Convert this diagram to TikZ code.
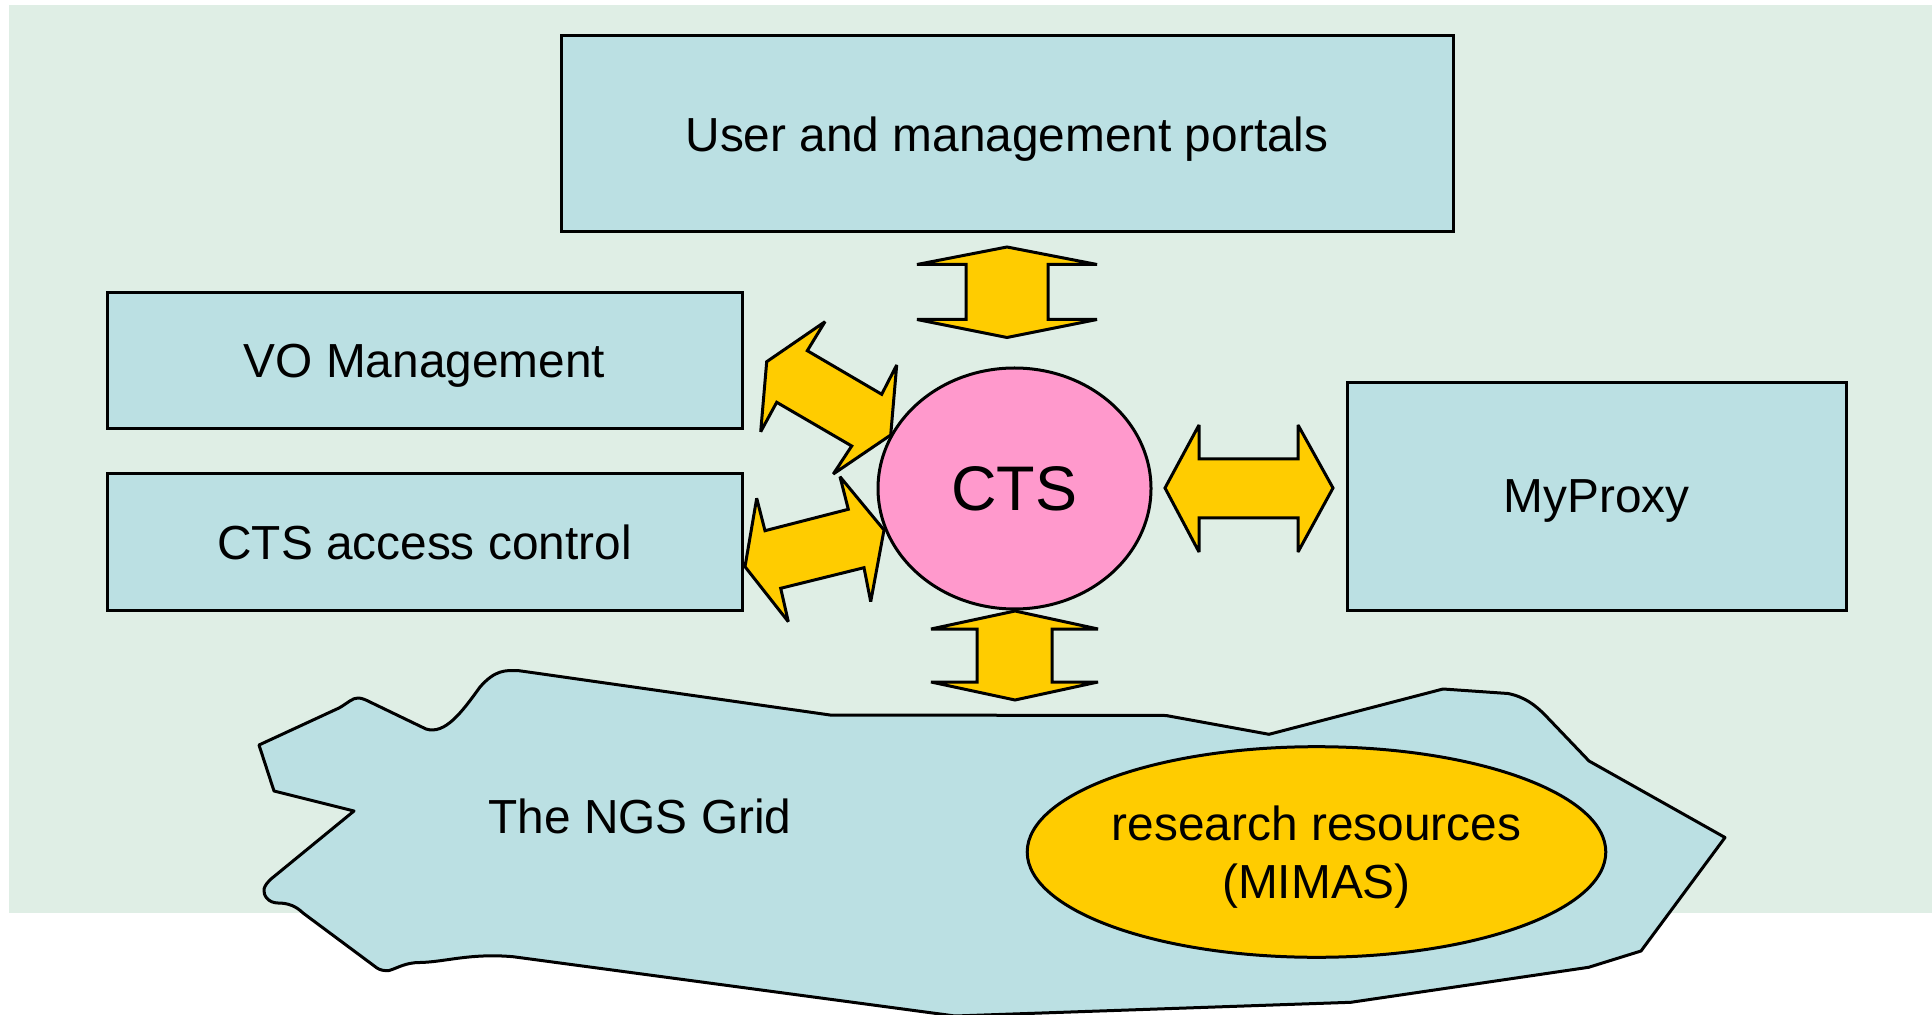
\documentclass[tikz,border=0pt]{standalone}
\usepackage{fontspec}
\setmainfont{Liberation Sans}
\usetikzlibrary{shapes.geometric}
\definecolor{bggreen}{RGB}{223,238,229}
\definecolor{boxblue}{RGB}{187,224,227}
\definecolor{arrowyellow}{RGB}{255,204,0}
\definecolor{ctspink}{RGB}{255,153,204}
\begin{document}
\begin{tikzpicture}[x=0.5pt,y=-0.5pt,
  outl/.style={draw=black, line width=1.5pt, line join=miter},
  box/.style={outl, fill=boxblue, rectangle, inner sep=0pt, text depth=0pt, font=\fontsize{23.9}{28.7}\selectfont},
  blk/.style={outl, fill=arrowyellow, miter limit=3},
  lbl/.style={font=\fontsize{23.9}{28.7}\selectfont, inner sep=0pt, text depth=0pt}
]
\useasboundingbox (0,0) rectangle (1932,1015);
\fill[bggreen] (9,5) rectangle (1932,913);

% NGS grid blob
\draw[outl, fill=boxblue, line join=round] (519,670.7) -- (830,715) -- (1166,715.5) -- (1269,734.3) -- (1443,689) -- (1508,693.5)
  .. controls (1525,697) and (1535,705) .. (1545,715) -- (1589,761) -- (1725,837.5) -- (1641,951) -- (1588.6,967.3)
  -- (1350.8,1002.3) -- (955,1016) -- (513,956.7)
  .. controls (470,953) and (445,962) .. (420,962.5)
  .. controls (405,962.5) and (398,968) .. (389,970.5)
  .. controls (384,971) and (380,970) .. (377,968) -- (303,913)
  .. controls (296,906) and (288,903) .. (278,903)
  .. controls (268,903) and (263,895) .. (264,889)
  .. controls (265,885) and (268,882) .. (271,879) -- (354,811) -- (274,791) -- (259,745) -- (339,708)
  .. controls (348,703) and (352,698) .. (358,698)
  .. controls (362,698) and (366,700) .. (370,702) -- (426,729)
  .. controls (445,735) and (462,712) .. (480,687)
  .. controls (495,670) and (505,670) .. cycle;
\node[lbl] (ngs) at (640,816) {The NGS Grid};

\node[outl, ellipse, fill=arrowyellow, minimum width=288pt, minimum height=105.3pt, inner sep=0pt,
  align=center, text depth=0pt, font=\fontsize{23.9}{28.7}\selectfont] (res) at (1316.5,852) {research resources\\(MIMAS)};

% boxes
\node[box, minimum width=446pt, minimum height=98pt] (portals) at (1007,134) {User and management portals};
\node[box, minimum width=317.5pt, minimum height=68pt] (vo) at (424.5,361) {VO Management};
\node[box, minimum width=317.5pt, minimum height=68pt] (acc) at (424.5,542) {CTS access control};
\node[box, minimum width=249.5pt, minimum height=113.5pt] (myproxy) at (1596.5,496.5) {MyProxy};

% CTS
\node[outl, ellipse, fill=ctspink, minimum width=136.5pt, minimum height=120.5pt, inner sep=0pt,
  text depth=0pt, font=\fontsize{31.5}{37}\selectfont] (cts) at (1014.5,488.5) {CTS};

% block arrows
\draw[blk] (1007,247) -- (1097,264.5) -- (1048,264.5) -- (1048,319.5) -- (1097,319.5) -- (1007,337.5) -- (917,319.5) -- (966,319.5) -- (966,264.5) -- (917,264.5) -- cycle;
\draw[blk] (1015,611) -- (1098,629) -- (1052,629) -- (1052,682) -- (1098,682) -- (1015,700) -- (931,682) -- (977,682) -- (977,629) -- (931,629) -- cycle;
\draw[blk] (1165,488) -- (1199,425) -- (1199,459) -- (1298,459) -- (1298,425) -- (1333,488) -- (1298,552) -- (1298,518) -- (1199,518) -- (1199,552) -- cycle;
\draw[blk] (766.7,361.7) -- (825,321.7) -- (807.3,350.7) -- (881.7,394.3) -- (896.7,365) -- (890.7,435) -- (833.3,474) -- (851.7,446) -- (776.7,402.3) -- (760.7,431.7) -- cycle;
\draw[blk] (745,566.7) -- (756.7,498.3) -- (765,530.7) -- (848.3,509.3) -- (840,476.7) -- (884,530) -- (870.7,601.7) -- (864,567.7) -- (780.7,588.3) -- (788.3,621.7) -- cycle;
\end{tikzpicture}
\end{document}
